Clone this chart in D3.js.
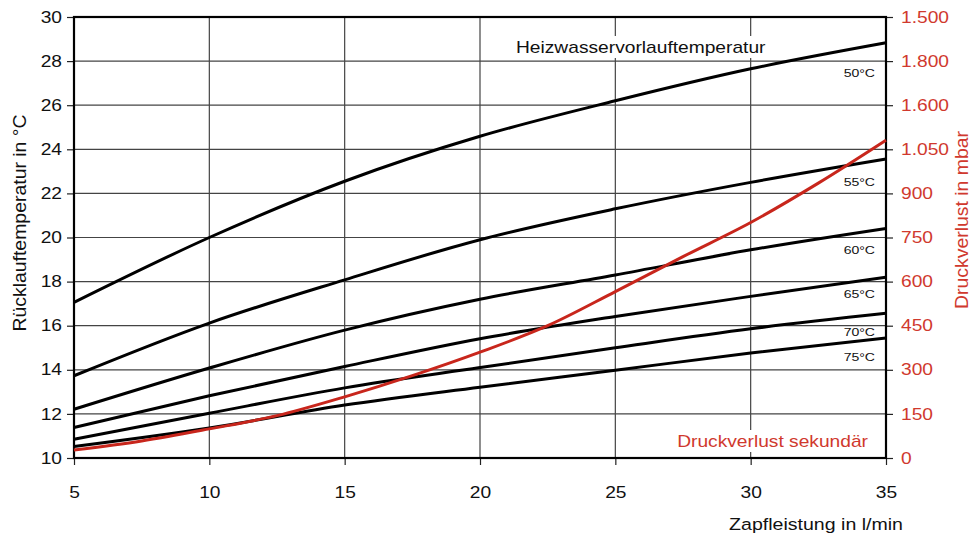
<!DOCTYPE html>
<html><head><meta charset="utf-8">
<script src="https://cdn.jsdelivr.net/npm/d3@7"></script>
<style>body{margin:0;background:#fff}svg{display:block;font-family:"Liberation Sans",Arial,sans-serif}</style>
</head><body><svg id="c" width="973" height="538"></svg>
<script>
const flow = [5, 10, 15, 20, 25, 30, 35];
const t50 = [17.06, 20.0, 22.55, 24.59, 26.2, 27.65, 28.83];
const t55 = [13.73, 16.12, 18.08, 19.9, 21.3, 22.5, 23.56];
const t60 = [12.21, 14.08, 15.8, 17.2, 18.3, 19.44, 20.41];
const t65 = [11.38, 12.82, 14.15, 15.41, 16.42, 17.33, 18.2];
const t70 = [10.85, 12.03, 13.18, 14.1, 15.0, 15.86, 16.56];
const t75 = [10.52, 11.36, 12.4, 13.21, 13.98, 14.76, 15.44];
const seriesNames = ["50°C", "55°C", "60°C", "65°C", "70°C", "75°C"];
const pFlow = [5, 7.5, 10, 12.5, 15, 17.5, 20, 22.5, 25, 27.5, 30, 32.5, 35];
const pLoss = [27, 58, 99, 144, 208, 280, 360, 450, 566, 685, 801, 935, 1081];
const xTicks = [5, 10, 15, 20, 25, 30, 35];
const yTicks = [10, 12, 14, 16, 18, 20, 22, 24, 26, 28, 30];
const rTicks = [0, 150, 300, 450, 600, 750, 900, 1050, 1200, 1350, 1500];
const rTickLabels = ["0", "150", "300", "450", "600", "750", "900", "1.050", "1.600", "1.800", "1.500"];

const FONT = "Liberation Sans, Arial, sans-serif";
const FS = 16, SX = 1.2;
const svg = d3.select("#c");
const L = 74, R = 886, T = 17, B = 458;
const x = d3.scaleLinear().domain([5, 35]).range([L, R]);
const y = d3.scaleLinear().domain([10, 30]).range([B, T]);
const yr = d3.scaleLinear().domain([0, 1500]).range([B, T]);
const red = "#c8261c", redText = "#d0392e";

// grid
const g = svg.append("g");
g.selectAll(".hg").data(yTicks).join("line")
  .attr("x1", L).attr("x2", R).attr("y1", d => y(d)).attr("y2", d => y(d))
  .attr("stroke", "#444").attr("stroke-width", 1.2);
g.selectAll(".vg").data(xTicks).join("line")
  .attr("x1", d => x(d)).attr("x2", d => x(d)).attr("y1", T).attr("y2", B)
  .attr("stroke", "#444").attr("stroke-width", 1.2);

// axes
const ax = svg.append("g").attr("transform", `translate(0,${B})`)
  .call(d3.axisBottom(x).tickValues(xTicks).tickSize(7).tickPadding(22));
const ay = svg.append("g").attr("transform", `translate(${L},0)`)
  .call(d3.axisLeft(y).tickValues(yTicks).tickSize(7).tickPadding(3));
const ar = svg.append("g").attr("transform", `translate(${R},0)`)
  .call(d3.axisRight(yr).tickValues(rTicks).tickSize(7).tickPadding(5.5).tickFormat((d, i) => rTickLabels[i]));
[ax, ay, ar].forEach(a => {
  a.select(".domain").remove();
  a.selectAll("line").attr("stroke", "#222").attr("stroke-width", 1.2);
  a.selectAll("text").attr("font-size", FS).attr("fill", "#111").attr("font-family", FONT)
    .attr("transform", `scale(${SX},1)`);
});
ar.selectAll("text").attr("fill", redText);

// frame
svg.append("rect").attr("x", L).attr("y", T).attr("width", R - L).attr("height", B - T)
  .attr("fill", "none").attr("stroke", "#000").attr("stroke-width", 2.2);

// label backgrounds
const bgs = [[512, 36, 256, 22], [672, 430, 200, 22]];
svg.selectAll(".bg").data(bgs).join("rect")
  .attr("x", d => d[0]).attr("y", d => d[1]).attr("width", d => d[2]).attr("height", d => d[3]).attr("fill", "#fff");

// curves
const series = [t50, t55, t60, t65, t70, t75];
const line = d3.line().x(d => x(d[0])).y(d => y(d[1])).curve(d3.curveMonotoneX);
series.forEach(s => {
  svg.append("path").datum(flow.map((f, i) => [f, s[i]]))
    .attr("d", line).attr("fill", "none").attr("stroke", "#000").attr("stroke-width", 3);
});
const rline = d3.line().x(d => x(d[0])).y(d => yr(d[1])).curve(d3.curveMonotoneX);
svg.append("path").datum(pFlow.map((f, i) => [f, pLoss[i]]))
  .attr("d", rline).attr("fill", "none").attr("stroke", red).attr("stroke-width", 3);

// texts
function label(tx, ty, str, opts) {
  const o = Object.assign({size: FS, fill: "#111", anchor: "start", rot: 0, sx: SX}, opts || {});
  return svg.append("text")
    .attr("transform", `translate(${tx},${ty})` + (o.rot ? ` rotate(${o.rot})` : "") + ` scale(${o.sx},1)`)
    .attr("text-anchor", o.anchor).attr("font-size", o.size).attr("fill", o.fill).text(str);
}
label(516, 53, "Heizwasservorlauftemperatur");
const labY = [73, 182, 250, 294, 332, 357];
seriesNames.forEach((n, i) => label(875, labY[i] + 4, n, {size: 11.7, anchor: "end"}));
label(868, 447, "Druckverlust sekundär", {fill: redText, anchor: "end"});
label(903, 530, "Zapfleistung in l/min", {anchor: "end", size: 16.3});
label(26, 223, "Rücklauftemperatur in °C", {anchor: "middle", rot: -90, size: 18, sx: 1.08});
label(968, 220, "Druckverlust in mbar", {anchor: "middle", rot: -90, fill: redText, size: 18, sx: 1.08});
</script></body></html>
